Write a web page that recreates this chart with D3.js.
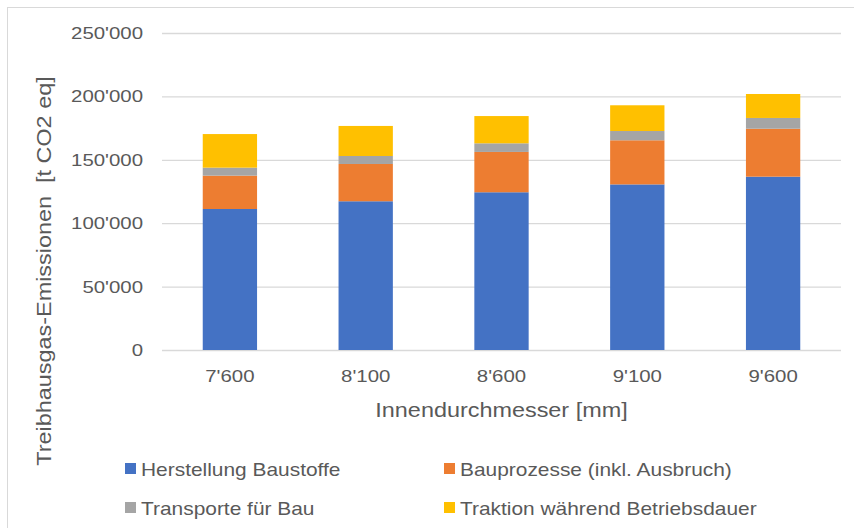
<!DOCTYPE html>
<html>
<head>
<meta charset="utf-8">
<script src="https://cdn.jsdelivr.net/npm/d3@7"></script>
<style>
  body { margin: 0; background: #fff; }
  text { font-family: "Liberation Sans", Arial, sans-serif; fill: #595959; }
</style>
</head>
<body>
<div id="vis"></div>
<script>
var width = 854;
var height = 528;
var text_stretch = 1.2;
var legend_stretch = 1.1;

var margin = {top: 33, right: 13, bottom: 178, left: 162};

var categories = ["7'600", "8'100", "8'600", "9'100", "9'600"];
var series_names = ["Herstellung Baustoffe", "Bauprozesse (inkl. Ausbruch)",
  "Transporte für Bau", "Traktion während Betriebsdauer"];
var series_colors = ["#4472c4", "#ed7d31", "#a5a5a5", "#ffc000"];

var herstellung = [111200, 117300, 124400, 130600, 136700];
var bauprozesse = [26300, 29400, 31800, 34800, 37800];
var transporte = [6300, 6300, 6800, 7300, 8500];
var traktion = [26500, 23700, 21500, 20300, 18900];

var y_ticks = [0, 50000, 100000, 150000, 200000, 250000];

var svg = d3.select("#vis").append("svg")
  .attr("width", width)
  .attr("height", height);

// outer chart border (only top/left visible in frame)
svg.append("rect")
  .attr("x", 7.5).attr("y", 7.5)
  .attr("width", width + 20).attr("height", height + 20)
  .attr("fill", "#fff")
  .attr("stroke", "#d9d9d9")
  .attr("stroke-width", 1);

var x_scale = d3.scaleBand()
  .domain(categories)
  .range([margin.left, width - margin.right])
  .paddingInner(0.6)
  .paddingOuter(0.3);

var y_scale = d3.scaleLinear()
  .domain([0, 250000])
  .range([height - margin.bottom, margin.top]);

var fmt = function(d){
  return d3.format(",")(d).replace(/,/g, "'");
};

// gridlines + y labels
var y_axis = svg.append("g")
  .attr("transform", "translate(" + margin.left + ",0)")
  .call(d3.axisLeft(y_scale).tickValues(y_ticks)
    .tickSize(-(width - margin.left - margin.right))
    .tickPadding(19)
    .tickFormat(fmt));
y_axis.select(".domain").remove();
y_axis.selectAll("line").attr("stroke", "#d9d9d9").attr("stroke-width", 1.3);
y_axis.selectAll("text").style("font-size", "17px").attr("fill", "#595959");

var rows = categories.map(function(c, i){
  return {cat: c, s0: herstellung[i], s1: bauprozesse[i], s2: transporte[i], s3: traktion[i]};
});

var stack = d3.stack().keys(["s0", "s1", "s2", "s3"])(rows);

svg.selectAll(".layer")
  .data(stack)
  .enter().append("g")
  .attr("class", "layer")
  .attr("fill", function(d, i){ return series_colors[i]; })
  .selectAll("rect")
  .data(function(d){ return d; })
  .enter().append("rect")
  .attr("x", function(d){ return x_scale(d.data.cat); })
  .attr("width", x_scale.bandwidth())
  .attr("y", function(d){ return y_scale(d[1]); })
  .attr("height", function(d){ return y_scale(d[0]) - y_scale(d[1]); });

// x labels
var x_axis = svg.append("g")
  .attr("transform", "translate(0," + (height - margin.bottom) + ")")
  .call(d3.axisBottom(x_scale).tickSize(0).tickPadding(20));
x_axis.select(".domain").remove();
x_axis.selectAll("text").style("font-size", "17px").attr("fill", "#595959");

// axis titles
svg.append("text")
  .attr("x", (margin.left + width - margin.right) / 2)
  .attr("y", 417)
  .attr("text-anchor", "middle")
  .style("font-size", "19.5px")
  .text("Innendurchmesser [mm]");

svg.append("text")
  .attr("transform", "translate(51,271) rotate(-90)")
  .attr("text-anchor", "middle")
  .style("font-size", "19.5px")
  .style("white-space", "pre")
  .text("Treibhausgas-Emissionen  [t CO2 eq]");

// legend
var legend = svg.selectAll(".legend")
  .data(series_names)
  .enter().append("g")
  .attr("class", "legend")
  .attr("transform", function(d, i){
    return "translate(" + (i % 2 === 0 ? 125 : 444) + "," + (i < 2 ? 463 : 502) + ")";
  });
legend.append("rect")
  .attr("width", 11).attr("height", 11)
  .attr("fill", function(d, i){ return series_colors[i]; });
legend.append("text")
  .attr("class", "legend-text")
  .attr("x", 16)
  .attr("y", 13)
  .style("font-size", "19px")
  .text(function(d){ return d; });

// the original renders its text a bit wider than Arial
svg.selectAll("text").each(function(){
  var w = this.getComputedTextLength();
  var k = d3.select(this).classed("legend-text") ? legend_stretch : text_stretch;
  d3.select(this)
    .attr("textLength", w * k)
    .attr("lengthAdjust", "spacingAndGlyphs");
});
</script>
</body>
</html>
